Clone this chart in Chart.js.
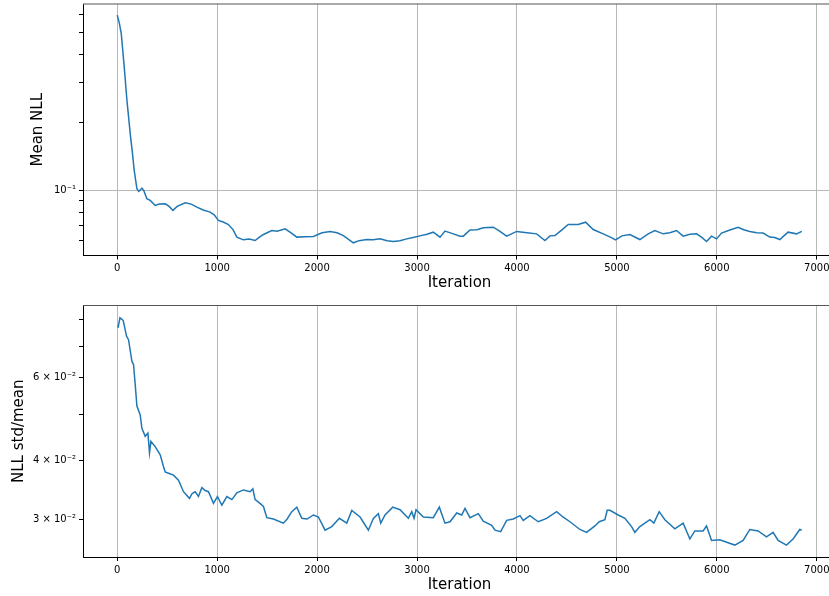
<!DOCTYPE html>
<html>
<head>
<meta charset="utf-8">
<script src="https://cdn.jsdelivr.net/npm/chart.js@4.4.1/dist/chart.umd.min.js"></script>
<style>
html, body { margin: 0; padding: 0; background: #fff; overflow: hidden; }
#figure { position: relative; width: 829px; height: 596px; overflow: hidden; }
canvas { position: absolute; left: 0; }
#meanChart { top: 0; }
#ratioChart { top: 300px; }
</style>
</head>
<body>
<div id="figure">
<canvas id="meanChart" width="860" height="300"></canvas>
<canvas id="ratioChart" width="860" height="296"></canvas>
</div>
<script>
// top panel: mean NLL per iteration
const meanIter = [0, 20, 40, 70, 97, 130, 153, 170, 197, 215, 230, 247, 265, 297, 330, 380, 420, 480, 520, 557, 600, 680, 740, 797, 860, 930, 970, 1013, 1060, 1113, 1160, 1197, 1263, 1320, 1380, 1420, 1463, 1547, 1600, 1680, 1740, 1797, 1880, 1963, 2050, 2130, 2200, 2263, 2363, 2420, 2497, 2560, 2630, 2700, 2763, 2830, 2897, 2960, 3030, 3100, 3163, 3230, 3280, 3363, 3430, 3463, 3530, 3600, 3663, 3763, 3830, 3897, 3997, 4100, 4197, 4280, 4330, 4380, 4450, 4513, 4613, 4687, 4763, 4863, 4940, 4987, 5050, 5130, 5230, 5313, 5380, 5463, 5530, 5597, 5663, 5730, 5797, 5850, 5897, 5947, 5997, 6047, 6130, 6213, 6270, 6330, 6400, 6463, 6530, 6580, 6630, 6713, 6797, 6850];
const meanNll = [0.594, 0.55, 0.494, 0.351, 0.250, 0.178, 0.145, 0.1226, 0.1017, 0.099, 0.1005, 0.1024, 0.100, 0.0919, 0.0903, 0.0858, 0.087, 0.0873, 0.085, 0.0816, 0.085, 0.0882, 0.087, 0.0844, 0.082, 0.0802, 0.078, 0.0737, 0.0725, 0.0707, 0.067, 0.0622, 0.0605, 0.061, 0.0601, 0.062, 0.0639, 0.0665, 0.066, 0.0677, 0.065, 0.0622, 0.0625, 0.0626, 0.065, 0.0659, 0.065, 0.0632, 0.0587, 0.060, 0.0607, 0.0605, 0.0611, 0.060, 0.0595, 0.060, 0.0611, 0.062, 0.0630, 0.064, 0.0654, 0.0622, 0.0661, 0.0643, 0.0628, 0.0628, 0.0669, 0.067, 0.0684, 0.0688, 0.066, 0.0628, 0.0659, 0.065, 0.0643, 0.0601, 0.063, 0.0632, 0.067, 0.0707, 0.0707, 0.0724, 0.0672, 0.0643, 0.062, 0.0605, 0.063, 0.0639, 0.0607, 0.0643, 0.0665, 0.0643, 0.065, 0.0665, 0.0628, 0.064, 0.0643, 0.062, 0.0595, 0.0628, 0.0611, 0.0648, 0.0669, 0.0688, 0.067, 0.0659, 0.065, 0.0648, 0.0622, 0.062, 0.0607, 0.0654, 0.0643, 0.0659];

// bottom panel: NLL std / mean
const ratioIter = [0, 10, 27, 45, 60, 93, 113, 147, 163, 180, 197, 230, 247, 280, 307, 323, 337, 380, 430, 460, 480, 520, 563, 613, 663, 723, 750, 780, 813, 847, 880, 913, 963, 1003, 1047, 1097, 1147, 1197, 1263, 1330, 1357, 1380, 1420, 1463, 1497, 1563, 1663, 1700, 1747, 1797, 1847, 1900, 1963, 2013, 2080, 2147, 2223, 2297, 2347, 2430, 2513, 2563, 2613, 2637, 2680, 2757, 2830, 2913, 2947, 2970, 2990, 3063, 3163, 3223, 3280, 3330, 3397, 3447, 3480, 3530, 3613, 3663, 3747, 3780, 3837, 3897, 3963, 4030, 4063, 4130, 4213, 4297, 4397, 4460, 4530, 4630, 4697, 4780, 4823, 4880, 4903, 4930, 5013, 5080, 5147, 5180, 5230, 5330, 5370, 5423, 5480, 5580, 5663, 5730, 5780, 5863, 5897, 5947, 6030, 6113, 6180, 6263, 6330, 6413, 6497, 6563, 6613, 6697, 6763, 6830, 6850];
const ratioNll = [0.0772, 0.0770, 0.0805, 0.080, 0.0794, 0.0736, 0.0723, 0.0650, 0.0640, 0.058, 0.0522, 0.0500, 0.0468, 0.0450, 0.0457, 0.0415, 0.0439, 0.0428, 0.0411, 0.039, 0.0378, 0.0375, 0.0372, 0.0363, 0.0343, 0.0332, 0.0340, 0.0343, 0.0335, 0.0350, 0.0345, 0.0343, 0.0324, 0.0335, 0.0321, 0.0335, 0.0330, 0.0341, 0.0346, 0.0343, 0.0348, 0.0330, 0.0325, 0.0319, 0.0302, 0.0300, 0.0294, 0.030, 0.0311, 0.0318, 0.0301, 0.030, 0.0306, 0.0303, 0.0284, 0.0289, 0.0301, 0.0294, 0.0313, 0.0303, 0.0284, 0.0301, 0.0308, 0.0294, 0.0306, 0.0318, 0.0314, 0.0301, 0.0311, 0.0301, 0.0314, 0.0303, 0.0302, 0.0318, 0.0294, 0.0296, 0.0309, 0.0306, 0.0316, 0.0302, 0.0308, 0.0297, 0.0291, 0.0284, 0.0282, 0.0298, 0.0300, 0.0305, 0.0298, 0.0305, 0.0296, 0.0301, 0.0311, 0.0303, 0.0296, 0.0285, 0.0281, 0.0290, 0.0296, 0.0299, 0.0313, 0.0313, 0.0306, 0.0301, 0.0289, 0.0281, 0.0289, 0.0299, 0.0294, 0.0311, 0.0299, 0.0286, 0.0294, 0.0272, 0.0283, 0.0283, 0.0290, 0.0270, 0.0271, 0.0267, 0.0264, 0.0270, 0.0285, 0.0283, 0.0275, 0.0281, 0.0270, 0.0264, 0.0272, 0.0285, 0.0284];

const xTicks = [0, 1000, 2000, 3000, 4000, 5000, 6000, 7000];
const meanTicks = [0.06, 0.07, 0.08, 0.09, 0.1, 0.2, 0.3, 0.4, 0.5, 0.6];
const meanTickLabels = ['', '', '', '', '10⁻¹', '', '', '', '', ''];
const ratioTicks = [0.03, 0.04, 0.05, 0.06, 0.07, 0.08];
const ratioTickLabels = ['3 × 10⁻²', '4 × 10⁻²', '', '6 × 10⁻²', '', ''];

Chart.defaults.font.family = 'DejaVu Sans';
Chart.defaults.color = '#000';

// matplotlib draws a top spine, chart.js doesn't
const topSpine = {
    id: 'topSpine',
    afterDraw(chart) {
        const { ctx, chartArea } = chart;
        ctx.save();
        ctx.strokeStyle = '#555';
        ctx.lineWidth = 1.2;
        ctx.beginPath();
        ctx.moveTo(chartArea.left, chartArea.top);
        ctx.lineTo(chartArea.right, chartArea.top);
        ctx.stroke();
        ctx.restore();
    }
};

// keep the plot box where the figure has it, no extra label padding
function noPad(s) {
    s.paddingTop = 0;
    s.paddingBottom = 0;
    s.paddingLeft = 0;
    s.paddingRight = 0;
}

function makePanel(canvasId, xs, ys, cfg) {
    const ctx = document.getElementById(canvasId);
    return new Chart(ctx, {
        type: 'line',
        data: {
            datasets: [{
                data: xs.map((x, i) => ({ x, y: ys[i] })),
                borderColor: '#1f77b4',
                borderWidth: 1.5,
                pointRadius: 0,
                tension: 0,
                fill: false
            }]
        },
        options: {
            responsive: false,
            animation: false,
            // figure is cropped on the right: plot box runs to x=836, page shows 829
            layout: { padding: { top: cfg.padTop, right: 24, bottom: 0, left: 0 } },
            plugins: { legend: { display: false }, tooltip: { enabled: false } },
            scales: {
                x: {
                    type: 'linear',
                    min: -342.5,
                    max: 7192.5,
                    afterBuildTicks: s => { s.ticks = xTicks.map(v => ({ value: v })); },
                    afterFit: s => { s.height = cfg.xHeight; noPad(s); },
                    ticks: { callback: v => String(v), font: { size: 10 }, padding: 3, maxRotation: 0, autoSkip: false },
                    grid: { color: '#b8b8b8', lineWidth: 1, tickColor: '#000', tickLength: 4 },
                    border: { color: '#000', width: 1 },
                    title: { display: true, text: 'Iteration', font: { size: 15 }, padding: { top: 0, bottom: cfg.xTitlePad } }
                },
                y: {
                    type: 'logarithmic',
                    min: cfg.yMin,
                    max: cfg.yMax,
                    afterBuildTicks: s => { s.ticks = cfg.yTicks.map(v => ({ value: v })); },
                    afterFit: s => { s.width = 83; noPad(s); },
                    ticks: { callback: (v, i) => cfg.yLabels[i], font: { size: 10 }, padding: 3, autoSkip: false },
                    grid: {
                        color: c => (c.tick && Math.abs(c.tick.value - 0.1) < 1e-9) ? '#b8b8b8' : 'rgba(0,0,0,0)',
                        tickColor: '#000',
                        tickLength: 4
                    },
                    border: { color: '#000', width: 1 },
                    title: { display: true, text: cfg.yTitle, font: { size: 15 }, padding: { top: cfg.yTitlePad, bottom: 0 } }
                }
            }
        },
        plugins: [topSpine]
    });
}

makePanel('meanChart', meanIter, meanNll, {
    padTop: 4, xHeight: 44.5, xTitlePad: 8,
    yMin: 0.0516, yMax: 0.665, yTicks: meanTicks, yLabels: meanTickLabels,
    yTitle: 'Mean NLL', yTitlePad: 29
});

makePanel('ratioChart', ratioIter, ratioNll, {
    padTop: 5.5, xHeight: 39, xTitlePad: 2,
    yMin: 0.0249, yMax: 0.0855, yTicks: ratioTicks, yLabels: ratioTickLabels,
    yTitle: 'NLL std/mean', yTitlePad: 10.5
});
</script>
</body>
</html>
